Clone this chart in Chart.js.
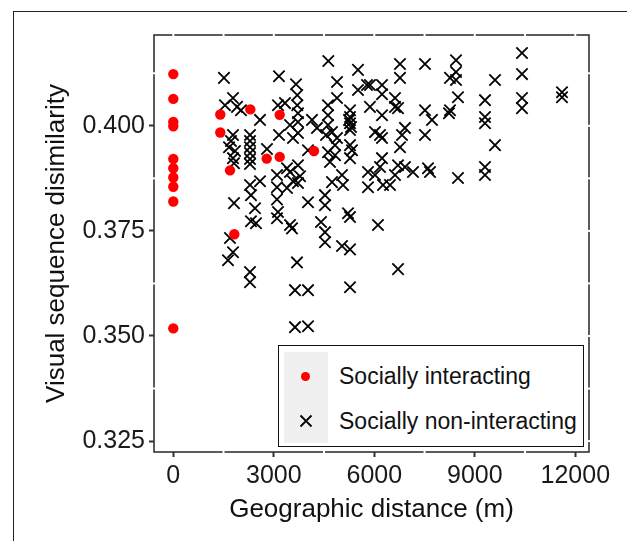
<!DOCTYPE html>
<html lang="en">
<head>
<meta charset="utf-8">
<title>Visual sequence disimilarity vs geographic distance</title>
<script src="https://cdn.jsdelivr.net/npm/chart.js@4.4.1/dist/chart.umd.min.js"></script>
<style>
    html, body { margin: 0; padding: 0; background: #fff; }
    #figura { position: relative; width: 627px; height: 541px; overflow: hidden; font-family: 'Liberation Sans', Arial, sans-serif; }
    #moldura { position: absolute; left: 13px; top: 11px; right: -5px; bottom: -5px; border-top: 1px solid #222; border-left: 1px solid #222; }
    #grafico { position: absolute; left: 0; top: 0; }
    #legenda { position: absolute; left: 278px; top: 345px; width: 306px; height: 102px; box-sizing: border-box; border: 1px solid #111; background: #fff; }
    #legenda .fundo { position: absolute; left: 5px; top: 6px; width: 44px; height: 91px; background: #f0f0f0; }
    #legenda .ponto { position: absolute; left: 22px; top: 26px; width: 9px; height: 9px; border-radius: 50%; background: #ff0000; }
    #legenda .cruz { position: absolute; left: 20px; top: 68px; }
    #legenda .texto { position: absolute; left: 60px; font-size: 23px; line-height: 26px; color: #111; white-space: nowrap; }
</style>
</head>
<body>
<div id="figura">
    <div id="moldura"></div>
    <canvas id="grafico" width="627" height="541"></canvas>
    <div id="legenda">
        <div class="fundo"></div>
        <div class="ponto"></div>
        <svg class="cruz" width="14" height="14" viewBox="-7 -7 14 14"><path d="M-5.5,-5.5L5.5,5.5M-5.5,5.5L5.5,-5.5" stroke="#000" stroke-width="1.8" fill="none"/></svg>
        <div class="texto" id="textoSerie0" style="top: 17px;"></div>
        <div class="texto" id="textoSerie1" style="top: 62px;"></div>
    </div>
</div>

<script>
console.log("grafico: ficheiro iniciado.");

// --- DADOS ---
const nomesSeries = ['Socially interacting', 'Socially non-interacting'];
const tituloEixoX = 'Geographic distance (m)';
const tituloEixoY = 'Visual sequence disimilarity';
const ticksX = [0, 3000, 6000, 9000, 12000];
const ticksY = [0.325, 0.350, 0.375, 0.400];

// [distancia (m), dissimilaridade]
const interagindo = [
    [0, 0.4123], [0, 0.4064], [0, 0.4009], [0, 0.3999], [0, 0.3921],
    [0, 0.3899], [0, 0.3877], [0, 0.3855], [0, 0.3820], [0, 0.3518],
    [1403, 0.4027], [1403, 0.3984], [2299, 0.4039], [3176, 0.4026], [1693, 0.3894],
    [2788, 0.3922], [3176, 0.3926], [4200, 0.3940], [1821, 0.3742]
];

const naoInteragindo = [
    [1513, 0.4114], [1782, 0.4066], [1543, 0.4049], [1902, 0.4045], [2021, 0.4037],
    [1782, 0.3978], [1722, 0.3964], [1663, 0.3949], [1842, 0.3940], [1782, 0.3923], [1812, 0.3911],
    [2290, 0.3978], [2290, 0.3964], [2290, 0.3949], [2290, 0.3935], [2290, 0.3921], [2290, 0.3909],
    [2588, 0.4014], [2797, 0.3945], [2290, 0.3859], [2319, 0.3835], [2588, 0.3868],
    [1812, 0.3816], [2439, 0.3804], [2319, 0.3773], [2469, 0.3768],
    [3095, 0.3883], [3095, 0.3854], [3095, 0.3825], [3125, 0.3795], [3095, 0.3780],
    [3483, 0.3764], [3543, 0.3756],
    [1692, 0.3733], [1782, 0.3699], [1633, 0.3680], [2290, 0.3652], [2290, 0.3628],
    [3692, 0.3675], [3633, 0.3609], [4021, 0.3609], [3633, 0.3521], [4021, 0.3523],
    [3155, 0.4118], [3663, 0.4099], [3125, 0.4049], [3334, 0.4054], [3700, 0.4073], [3700, 0.4049],
    [3722, 0.4030], [3722, 0.4009], [3722, 0.3983], [3483, 0.4002], [3155, 0.3978], [3573, 0.3971],
    [3483, 0.3890], [3722, 0.3906], [3782, 0.3880], [3573, 0.3868], [3722, 0.3864], [3394, 0.3852], [3394, 0.3899],
    [4627, 0.4154], [4887, 0.4104], [4887, 0.4066], [4618, 0.4049], [4618, 0.4025],
    [5275, 0.4037], [5275, 0.4021], [5275, 0.4006], [5275, 0.3990], [5245, 0.4014], [5305, 0.3997],
    [4140, 0.4014], [4289, 0.3995], [4618, 0.4002], [4737, 0.3985], [4558, 0.3978], [4887, 0.3971], [4827, 0.3954],
    [5275, 0.3954], [5334, 0.3942], [5275, 0.3923],
    [4021, 0.3942], [4618, 0.3937], [4678, 0.3914], [4827, 0.3930],
    [5036, 0.3883], [4737, 0.3866], [5066, 0.3859],
    [4528, 0.3835], [4528, 0.3811], [4021, 0.3818], [4409, 0.3771], [5215, 0.3792], [5275, 0.3783],
    [4528, 0.3747], [4528, 0.3723], [5036, 0.3714], [5275, 0.3706],
    [5275, 0.3616], [6708, 0.3659],
    [5513, 0.4133], [5782, 0.4097], [5871, 0.4097], [5513, 0.4085], [6230, 0.4097], [6230, 0.4075],
    [5871, 0.4045], [6230, 0.4025], [6021, 0.3985], [6170, 0.3978], [6230, 0.3971],
    [6618, 0.4066], [6618, 0.4045], [6708, 0.4042],
    [6767, 0.4147], [6767, 0.4114], [7513, 0.4147], [7513, 0.4037], [7722, 0.4014],
    [6916, 0.3995], [6827, 0.3978], [6767, 0.3949], [7513, 0.3978],
    [6230, 0.3923], [6170, 0.3902], [5812, 0.3890], [6021, 0.3883],
    [6708, 0.3906], [6916, 0.3902], [7155, 0.3890], [6618, 0.3883], [7603, 0.3899], [7663, 0.3890],
    [5812, 0.3854], [6260, 0.3859], [6469, 0.3859], [6110, 0.3764],
    [8439, 0.4156], [8439, 0.4128], [8260, 0.4114], [8439, 0.4109], [8498, 0.4068], [8260, 0.4037], [8230, 0.4030],
    [9603, 0.4109], [9304, 0.4061], [9304, 0.4021], [9304, 0.4006], [9603, 0.3954],
    [8498, 0.3876], [9304, 0.3902], [9304, 0.3883],
    [10409, 0.4173], [10409, 0.4123], [10409, 0.4066], [10409, 0.4042],
    [11603, 0.4080], [11603, 0.4068]
];

// --- LEGENDA (texto real no DOM) ---
document.getElementById('textoSerie0').textContent = nomesSeries[0];
document.getElementById('textoSerie1').textContent = nomesSeries[1];

// --- PLUGIN: borda do painel com pequenos cortes brancos (estilo ggplot) ---
const bordaPainel = {
    id: 'bordaPainel',
    afterDraw(chart) {
        const { ctx, chartArea: a, scales } = chart;
        ctx.save();
        ctx.strokeStyle = '#333';
        ctx.lineWidth = 1.6;
        ctx.strokeRect(a.left, a.top, a.right - a.left, a.bottom - a.top);

        ctx.fillStyle = '#fff';
        for (let v = 0; v <= 12000; v += 1500) {
            const px = scales.x.getPixelForValue(v);
            ctx.fillRect(px - 1, a.top - 1.5, 2, 3);
            if (v % 3000 !== 0) ctx.fillRect(px - 1, a.bottom - 1.5, 2, 3);
        }
        for (let i = 0; i <= 7; i++) {
            const v = 0.325 + i * 0.0125;
            const py = scales.y.getPixelForValue(v);
            ctx.fillRect(a.right - 1.5, py - 1, 3, 2);
            if (i % 2 === 1) ctx.fillRect(a.left - 1.5, py - 1, 3, 2);
        }
        ctx.restore();
    }
};

const fonteTicks = { family: "'Liberation Sans', Arial, sans-serif", size: 25 };
const fonteTitulo = { family: "'Liberation Sans', Arial, sans-serif", size: 26 };

const ctx = document.getElementById('grafico').getContext('2d');
new Chart(ctx, {
    type: 'scatter',
    data: {
        datasets: [
            {
                label: nomesSeries[0],
                data: interagindo.map(p => ({ x: p[0], y: p[1] })),
                pointStyle: 'circle',
                pointRadius: 5.2,
                backgroundColor: '#ff0000',
                borderColor: '#ff0000',
                borderWidth: 0
            },
            {
                label: nomesSeries[1],
                data: naoInteragindo.map(p => ({ x: p[0], y: p[1] })),
                pointStyle: 'crossRot',
                pointRadius: 8,
                backgroundColor: '#000',
                borderColor: '#000',
                borderWidth: 1.8
            }
        ]
    },
    options: {
        responsive: false,
        animation: false,
        devicePixelRatio: 1,
        events: [],
        layout: { padding: { top: 35, right: 38, left: 0, bottom: 0 } },
        plugins: { legend: { display: false }, tooltip: { enabled: false } },
        scales: {
            x: {
                type: 'linear',
                min: -576,
                max: 12409,
                afterFit: s => { s.height = 89; },
                afterBuildTicks: s => { s.ticks = ticksX.map(v => ({ value: v })); },
                border: { display: false },
                grid: { drawOnChartArea: false, drawTicks: true, tickLength: 5, tickColor: '#333', tickWidth: 2 },
                ticks: { font: fonteTicks, color: '#1a1a1a', padding: 4, maxRotation: 0, callback: v => String(v) },
                title: { display: true, text: tituloEixoX, font: fonteTitulo, color: '#111', padding: { top: 0, bottom: 16 } }
            },
            y: {
                type: 'linear',
                min: 0.3224,
                max: 0.4216,
                afterFit: s => { s.width = 154; },
                afterBuildTicks: s => { s.ticks = ticksY.map(v => ({ value: v })); },
                border: { display: false },
                grid: { drawOnChartArea: false, drawTicks: true, tickLength: 5, tickColor: '#333', tickWidth: 2 },
                ticks: { font: fonteTicks, color: '#1a1a1a', padding: 4, callback: v => v.toFixed(3) },
                title: { display: true, text: tituloEixoY, font: fonteTitulo, color: '#111', padding: { top: 41, bottom: 0 } }
            }
        }
    },
    plugins: [bordaPainel]
});
</script>
</body>
</html>
